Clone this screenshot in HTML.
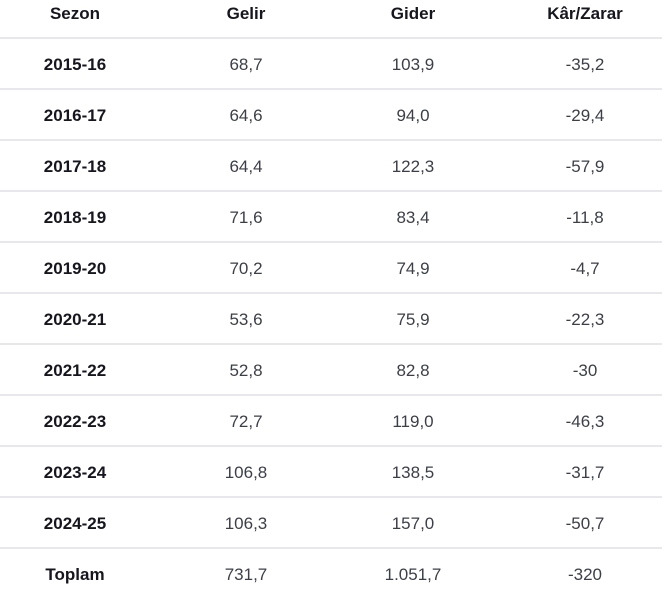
<!DOCTYPE html>
<html><head><style>
body{margin:0;width:666px;height:591px;background:#fff;font-family:"Liberation Sans",Arial,sans-serif;font-size:17px;position:relative;overflow:hidden}
.l{position:absolute;left:0;width:662px;height:2px;background:#e8e8ec}
.r{position:absolute;left:0;width:662px;height:20px;line-height:20px}
.r span{position:absolute;width:200px;text-align:center;color:#3d3f48}
.r span.b{font-weight:bold;color:#16161e}
.c1{left:-25px}.c2{left:146px}.c3{left:313px}.c4{left:485px}
</style></head><body>
<div class="r" style="top:4px"><span class="c1 b">Sezon</span><span class="c2 b">Gelir</span><span class="c3 b">Gider</span><span class="c4 b">Kâr/Zarar</span></div>
<div class="l" style="top:37px"></div>
<div class="r" style="top:55px"><span class="c1 b">2015-16</span><span class="c2">68,7</span><span class="c3">103,9</span><span class="c4">-35,2</span></div>
<div class="l" style="top:88px"></div>
<div class="r" style="top:106px"><span class="c1 b">2016-17</span><span class="c2">64,6</span><span class="c3">94,0</span><span class="c4">-29,4</span></div>
<div class="l" style="top:139px"></div>
<div class="r" style="top:157px"><span class="c1 b">2017-18</span><span class="c2">64,4</span><span class="c3">122,3</span><span class="c4">-57,9</span></div>
<div class="l" style="top:190px"></div>
<div class="r" style="top:208px"><span class="c1 b">2018-19</span><span class="c2">71,6</span><span class="c3">83,4</span><span class="c4">-11,8</span></div>
<div class="l" style="top:241px"></div>
<div class="r" style="top:259px"><span class="c1 b">2019-20</span><span class="c2">70,2</span><span class="c3">74,9</span><span class="c4">-4,7</span></div>
<div class="l" style="top:292px"></div>
<div class="r" style="top:310px"><span class="c1 b">2020-21</span><span class="c2">53,6</span><span class="c3">75,9</span><span class="c4">-22,3</span></div>
<div class="l" style="top:343px"></div>
<div class="r" style="top:361px"><span class="c1 b">2021-22</span><span class="c2">52,8</span><span class="c3">82,8</span><span class="c4">-30</span></div>
<div class="l" style="top:394px"></div>
<div class="r" style="top:412px"><span class="c1 b">2022-23</span><span class="c2">72,7</span><span class="c3">119,0</span><span class="c4">-46,3</span></div>
<div class="l" style="top:445px"></div>
<div class="r" style="top:463px"><span class="c1 b">2023-24</span><span class="c2">106,8</span><span class="c3">138,5</span><span class="c4">-31,7</span></div>
<div class="l" style="top:496px"></div>
<div class="r" style="top:514px"><span class="c1 b">2024-25</span><span class="c2">106,3</span><span class="c3">157,0</span><span class="c4">-50,7</span></div>
<div class="l" style="top:547px"></div>
<div class="r" style="top:565px"><span class="c1 b">Toplam</span><span class="c2">731,7</span><span class="c3">1.051,7</span><span class="c4">-320</span></div>
</body></html>
